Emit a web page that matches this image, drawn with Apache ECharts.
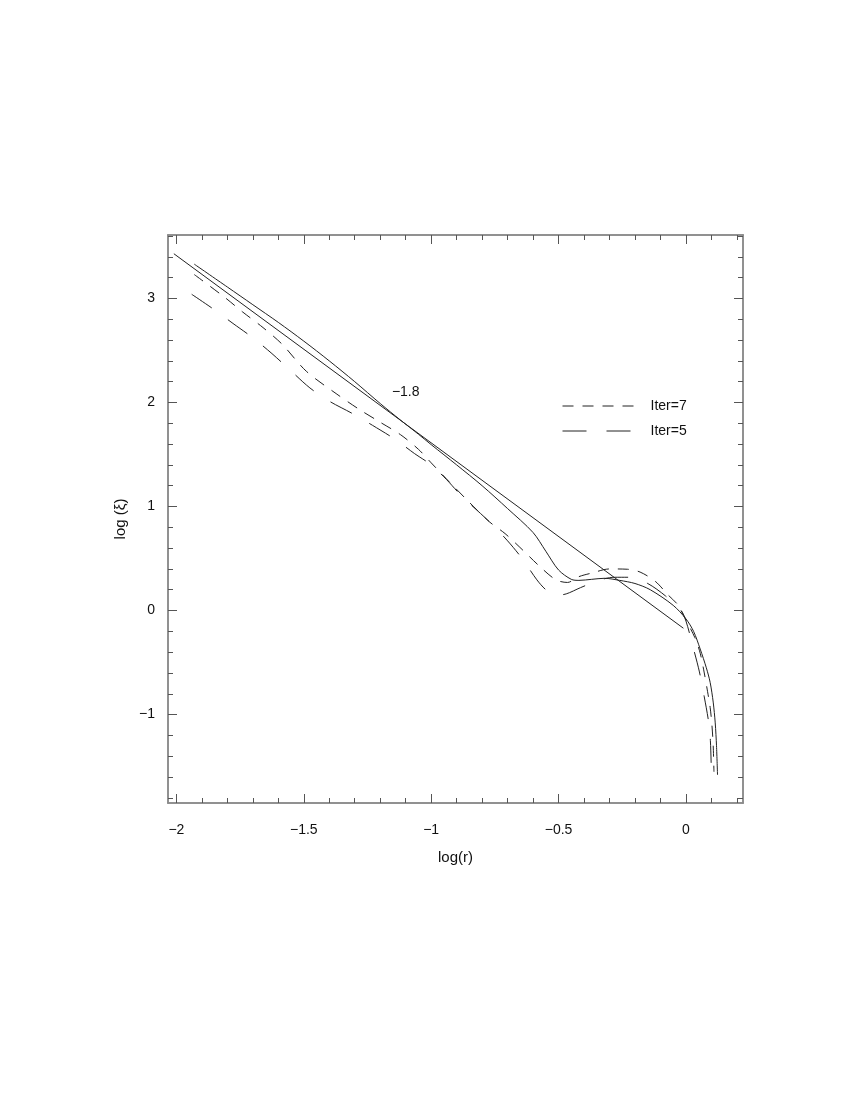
<!DOCTYPE html>
<html>
<head>
<meta charset="utf-8">
<script src="https://cdn.jsdelivr.net/npm/echarts@6/dist/echarts.min.js"></script>
<style>
  html, body { margin: 0; padding: 0; background: #fff; }
  #chart { width: 850px; height: 1100px; }
</style>
</head>
<body>
<div id="chart"></div>
<script>
// axis ranges and tick labels
var X_MIN = -2.033, X_MAX = 0.224;
var Y_MIN = -1.85, Y_MAX = 3.61;
var xLabelTicks = [-2, -1.5, -1, -0.5, 0];
var yLabelTicks = [-1, 0, 1, 2, 3];

// slope -1.8 reference line
var lineX = [-2.01, -0.01];
var lineY = [3.43, -0.17];

// solid curve
var solidX = [-1.93, -1.8, -1.7, -1.6, -1.5, -1.4, -1.3, -1.2, -1.12, -1.05, -1.0, -0.9, -0.8, -0.7, -0.6, -0.55, -0.5, -0.45, -0.42, -0.37, -0.32, -0.26, -0.2, -0.14, -0.05, 0.0, 0.03, 0.056, 0.08, 0.095, 0.107, 0.115, 0.12, 0.124];
var solidY = [3.33, 3.11, 2.94, 2.77, 2.59, 2.40, 2.20, 1.99, 1.83, 1.695, 1.595, 1.40, 1.20, 0.98, 0.75, 0.57, 0.39, 0.30, 0.29, 0.30, 0.31, 0.29, 0.26, 0.20, 0.05, -0.08, -0.2, -0.37, -0.55, -0.69, -0.88, -1.08, -1.3, -1.58];

// Iter=7 (short dashes)
var iter7X = [-1.93, -1.81, -1.74, -1.66, -1.585, -1.49, -1.37, -1.28, -1.2, -1.12, -1.05, -1.0, -0.93, -0.85, -0.77, -0.71, -0.64, -0.57, -0.51, -0.465, -0.42, -0.37, -0.3, -0.23, -0.18, -0.12, -0.07, -0.03, 0.0, 0.035, 0.056, 0.072, 0.085, 0.095, 0.102, 0.107, 0.11];
var iter7Y = [3.23, 3.01, 2.87, 2.72, 2.56, 2.30, 2.08, 1.93, 1.81, 1.69, 1.55, 1.42, 1.24, 1.04, 0.85, 0.74, 0.58, 0.415, 0.295, 0.27, 0.326, 0.36, 0.40, 0.397, 0.37, 0.28, 0.15, 0.05, -0.09, -0.26, -0.41, -0.6, -0.78, -0.93, -1.1, -1.3, -1.55];

// Iter=5 (long dashes)
var iter5X = [-1.94, -1.856, -1.778, -1.699, -1.625, -1.553, -1.476, -1.398, -1.31, -1.23, -1.141, -1.066, -1.0, -0.94, -0.88, -0.77, -0.70, -0.643, -0.585, -0.55, -0.515, -0.47, -0.414, -0.336, -0.28, -0.22, -0.15, -0.08, -0.02, 0.0, 0.03, 0.053, 0.072, 0.089, 0.096, 0.1];
var iter5Y = [3.04, 2.90, 2.76, 2.62, 2.47, 2.31, 2.14, 2.01, 1.895, 1.78, 1.645, 1.51, 1.40, 1.26, 1.10, 0.85, 0.67, 0.50, 0.295, 0.20, 0.145, 0.16, 0.22, 0.295, 0.32, 0.32, 0.26, 0.14, 0.0, -0.1, -0.37, -0.59, -0.83, -1.07, -1.25, -1.57];

function zip(xs, ys) {
  return xs.map(function (x, i) { return [x, ys[i]]; });
}
function steps(from, to, step) {
  var out = [];
  for (var i = Math.round(from / step); i <= Math.round(to / step); i++) {
    out.push(Math.round(i * step * 10) / 10);
  }
  return out;
}
var xMinor = steps(-2.0, 0.2, 0.1);
var yMinor = steps(-1.8, 3.6, 0.2);

var FONT = 'Liberation Sans, Arial, sans-serif';
var INK = '#222';
function minus(v) { return (v < 0 ? '\u2212' : '') + Math.abs(v); }

function axis(dim, pos, ticks, len, labels) {
  var a = {
    type: 'value',
    position: pos,
    min: dim === 'x' ? X_MIN : Y_MIN,
    max: dim === 'x' ? X_MAX : Y_MAX,
    axisLine: { show: true, onZero: false, lineStyle: { color: '#8a8a8a', width: 1.5 } },
    axisTick: { show: true, inside: true, length: len, customValues: ticks, lineStyle: { color: '#555', width: 1 } },
    axisLabel: { show: false },
    splitLine: { show: false }
  };
  if (labels) {
    a.axisLabel = {
      show: true, customValues: labels, formatter: minus,
      color: '#111', fontSize: 14, fontFamily: FONT, margin: dim === 'x' ? 20 : 13
    };
  }
  return a;
}

var xAxes = [
  axis('x', 'bottom', xMinor, 5, xLabelTicks),
  axis('x', 'bottom', xLabelTicks, 9),
  axis('x', 'top', xMinor, 5),
  axis('x', 'top', xLabelTicks, 9)
];
xAxes[0].name = 'log(r)';
xAxes[0].nameLocation = 'middle';
xAxes[0].nameGap = 47;
xAxes[0].nameTextStyle = { color: '#111', fontSize: 15, fontFamily: FONT };

var yAxes = [
  axis('y', 'left', yMinor, 5, yLabelTicks),
  axis('y', 'left', yLabelTicks, 9),
  axis('y', 'right', yMinor, 5),
  axis('y', 'right', yLabelTicks, 9)
];
yAxes[0].name = 'log (\u03be)';
yAxes[0].nameLocation = 'middle';
yAxes[0].nameGap = 40;
yAxes[0].nameTextStyle = { color: '#111', fontSize: 15, fontFamily: FONT };

var chart = echarts.init(document.getElementById('chart'), null, { renderer: 'canvas' });
chart.setOption({
  animation: false,
  backgroundColor: '#fff',
  grid: { left: 168, right: 107, top: 235, bottom: 297, containLabel: false },
  xAxis: xAxes,
  yAxis: yAxes,
  legend: {
    show: true,
    data: ['Iter=7', 'Iter=5'],
    orient: 'vertical',
    left: 557,
    top: 394,
    itemWidth: 78,
    itemHeight: 14,
    itemGap: 11,
    itemStyle: { opacity: 0 },
    lineStyle: { width: 1 },
    textStyle: { color: '#111', fontSize: 14, fontFamily: FONT, padding: [0, 0, 0, 5] }
  },
  series: [
    {
      name: 'slope', type: 'line', data: zip(lineX, lineY),
      symbol: 'none', silent: true,
      lineStyle: { color: INK, width: 1 },
      markPoint: {
        symbolSize: 0,
        data: [{ coord: [-1.1, 2.1] }],
        label: { show: true, position: 'inside', formatter: '\u22121.8', color: '#111', fontSize: 14, fontFamily: FONT }
      }
    },
    {
      name: 'solid', type: 'line', data: zip(solidX, solidY),
      symbol: 'none', smooth: 0.3,
      lineStyle: { color: INK, width: 1 }
    },
    {
      name: 'Iter=7', type: 'line', data: zip(iter7X, iter7Y),
      symbol: 'none', smooth: 0.3,
      itemStyle: { color: INK },
      lineStyle: { color: INK, width: 1, type: [11, 9] }
    },
    {
      name: 'Iter=5', type: 'line', data: zip(iter5X, iter5Y),
      symbol: 'none', smooth: 0.3,
      itemStyle: { color: INK },
      lineStyle: { color: INK, width: 1, type: [24, 20] }
    }
  ]
});
</script>
</body>
</html>
